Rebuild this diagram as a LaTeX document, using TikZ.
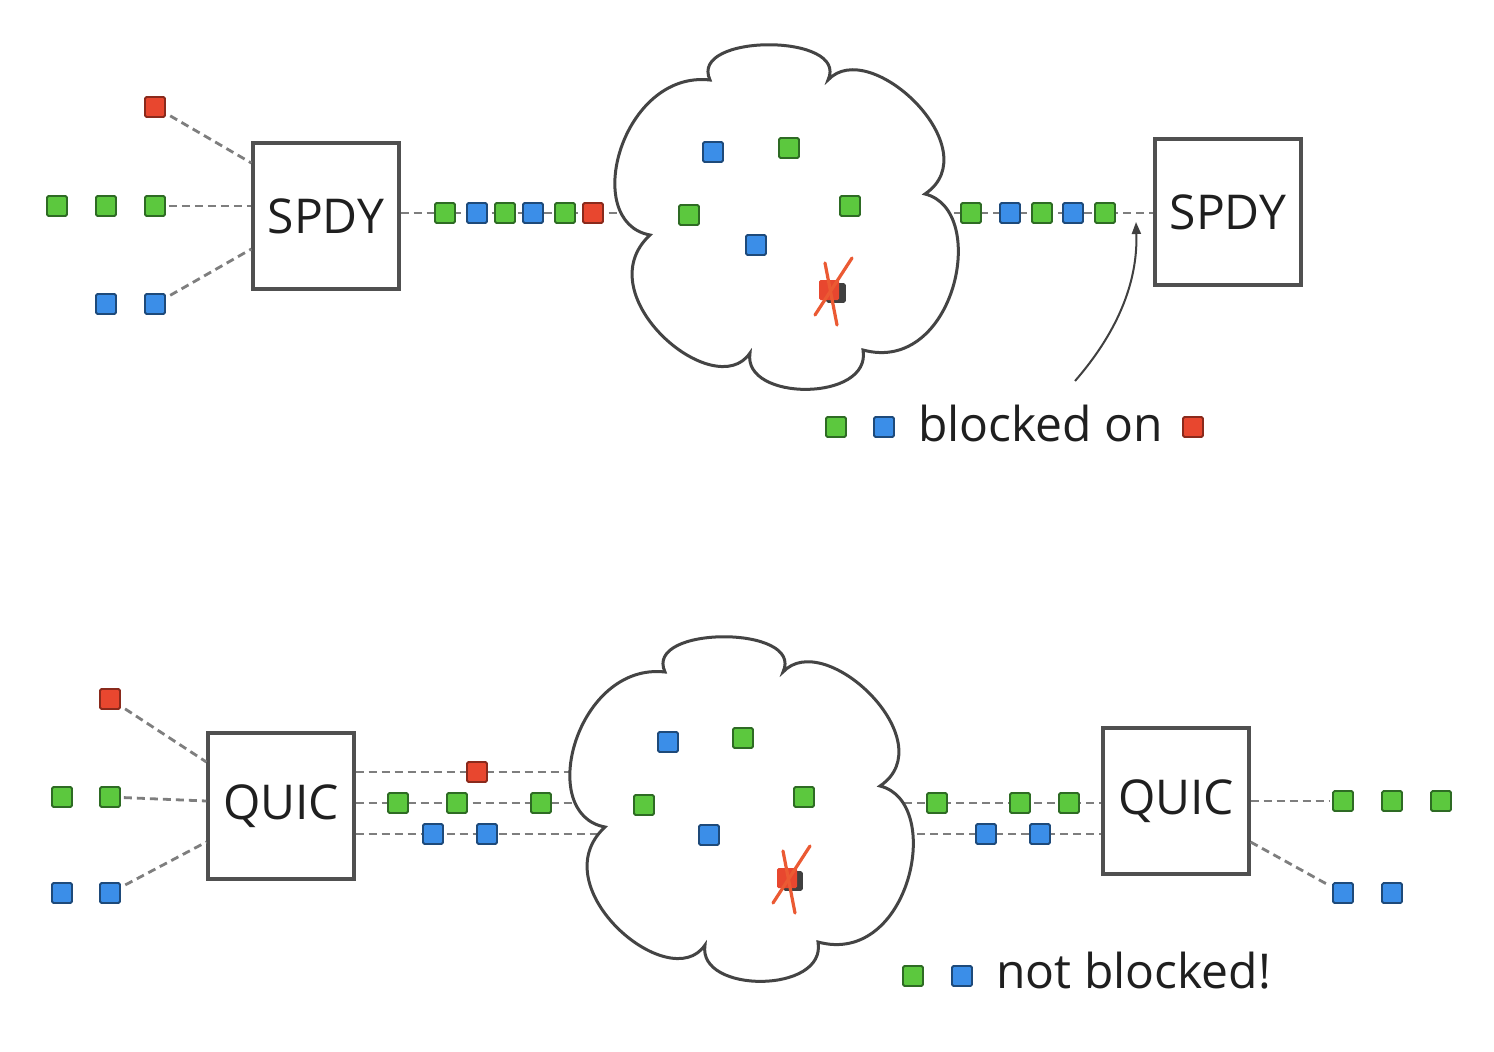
\documentclass[tikz,border=0pt]{standalone}
\usepackage{fontspec}
\setmainfont{Open Sans}
\usetikzlibrary{arrows.meta}
\definecolor{pgreen}{HTML}{5CC83E}
\definecolor{pgreendk}{HTML}{2E6B24}
\definecolor{pblue}{HTML}{3B8EE8}
\definecolor{pbluedk}{HTML}{1E4A7A}
\definecolor{pred}{HTML}{E8472F}
\definecolor{preddk}{HTML}{8A2A1C}
\definecolor{boxgray}{HTML}{505050}
\definecolor{linegray}{HTML}{7E7E7E}
\definecolor{cloudgray}{HTML}{444444}
\definecolor{xred}{HTML}{EB5A33}
\begin{document}
\begin{tikzpicture}[x=1pt,y=-1pt,
 pkt/.style={draw, line width=1.8pt, minimum size=20pt, inner sep=0pt, rounded corners=1.5pt},
 gpk/.style={pkt, fill=pgreen, draw=pgreendk},
 bpk/.style={pkt, fill=pblue, draw=pbluedk},
 rpk/.style={pkt, fill=pred, draw=preddk},
 proto/.style={draw=boxgray, line width=3.2pt, fill=white, minimum width=146pt, minimum height=146pt, inner sep=0pt, font=\fontsize{48}{56}\selectfont, text=black!88},
 link/.style={draw=linegray, line width=2.8pt, dash pattern=on 8pt off 5pt},
 cloudline/.style={draw=cloudgray, line width=3pt, fill=white},
 lbl/.style={font=\fontsize{48}{56}\selectfont, text=black!88, inner sep=0pt, anchor=base west},
 cross/.style={draw=xred, line width=3.2pt, line cap=round},
 pointer/.style={draw=black!75, line width=2pt, -{Triangle[length=12pt,width=9pt]}},
 cloudpic/.pic={
   \path[cloudline] (710,80) .. controls (688,33) and (850,33) .. (828,80)
     .. controls (870,35) and (990,150) .. (925,194)
     .. controls (990,210) and (955,375) .. (863,350)
     .. controls (872,402) and (742,402) .. (750,353)
     .. controls (715,405) and (585,295) .. (650,235)
     .. controls (580,222) and (622,70) .. (710,80) -- cycle;
 }
]
\fill[white] (0,0) rectangle (1494,1052);
\useasboundingbox (0,0) rectangle (1494,1052);

% ================= TOP (SPDY) =================
\node[proto] (s1) at (326,216) {SPDY};
\node[proto] (s2) at (1228,212) {SPDY};

\node[rpk] (ta1) at (155,107) {};
\node[gpk] (tg1) at (57,206) {};
\node[gpk] (tg2) at (106,206) {};
\node[gpk] (tg3) at (155,206) {};
\node[bpk] (tb1) at (106,304) {};
\node[bpk] (tb2) at (155,304) {};

\draw[link, shorten <=5pt] (ta1) -- ([yshift=53pt]s1.west);
\draw[link, shorten <=3pt] (tg3) -- ([yshift=10pt]s1.west);
\draw[link, shorten <=5pt] (tb2) -- ([yshift=-33pt]s1.west);

\coordinate (c1l) at (720,213);
\coordinate (c1r) at (850,213);
\draw[link, line width=2.2pt] (s1.east |- c1l) -- (c1l);
\draw[link, line width=2.2pt] (c1r) -- (s2.west |- c1r);

\pic at (0,0) {cloudpic};

% packets on the wire
\node[gpk] (tw1) at (445,213) {};
\node[bpk] (tw2) at (477,213) {};
\node[gpk] (tw3) at (505,213) {};
\node[bpk] (tw4) at (533,213) {};
\node[gpk] (tw5) at (565,213) {};
\node[rpk] (tw6) at (593,213) {};

\node[gpk] (to1) at (971,213) {};
\node[bpk] (to2) at (1010,213) {};
\node[gpk] (to3) at (1042,213) {};
\node[bpk] (to4) at (1073,213) {};
\node[gpk] (to5) at (1105,213) {};

% packets in the cloud
\node[bpk] (tc1) at (713,152) {};
\node[gpk] (tc2) at (789,148) {};
\node[gpk] (tc3) at (689,215) {};
\node[gpk] (tc4) at (850,206) {};
\node[bpk] (tc5) at (756,245) {};
\node[pkt, fill=black!75, draw=black!75, minimum size=18pt] (tcs) at (836,293) {};
\node[rpk, draw=none] (tc6) at (829,290) {};
\draw[cross] ([shift={(-14pt,-25pt)}]tc6.center) -- ([shift={(23pt,32pt)}]tc6.center);
\draw[cross] ([shift={(-4pt,27pt)}]tc6.center) -- ([shift={(8pt,-35pt)}]tc6.center);

% label
\node[gpk] (lg1) at (836,427) {};
\node[bpk] (lb1) at (884,427) {};
\node[lbl] (blk) at (918,441) {blocked on};
\node[rpk] (lr1) at (1193,427) {};
\coordinate (a0) at (1075,381);
\coordinate (a1) at (1136,222);
\draw[pointer] (a0) .. controls (1115,335) and (1138,285) .. (a1);

% ================= BOTTOM (QUIC) =================
\node[proto] (q1) at (281,806) {QUIC};
\node[proto] (q2) at (1176,801) {QUIC};

\node[rpk] (ba1) at (110,699) {};
\node[gpk] (bg1) at (62,797) {};
\node[gpk] (bg2) at (110,797) {};
\node[bpk] (bb1) at (62,893) {};
\node[bpk] (bb2) at (110,893) {};

\draw[link, shorten <=5pt] (ba1) -- ([yshift=44pt]q1.west);
\draw[link, shorten <=3pt] (bg2) -- ([yshift=5pt]q1.west);
\draw[link, shorten <=5pt] (bb2) -- ([yshift=-36pt]q1.west);

\coordinate (k1) at (700,772);
\coordinate (k2) at (700,803);
\coordinate (k3) at (700,834);
\coordinate (k4) at (800,803);
\coordinate (k5) at (800,834);
\draw[link] ([yshift=34pt]q1.east) -- (k1);
\draw[link] ([yshift=3pt]q1.east) -- (k2);
\draw[link] ([yshift=-28pt]q1.east) -- (k3);
\draw[link] (k4) -- ([yshift=-2pt]q2.west);
\draw[link] (k5) -- ([yshift=-33pt]q2.west);

\pic at (-45,592) {cloudpic};

\node[rpk] (bw1) at (477,772) {};
\node[gpk] (bw2) at (398,803) {};
\node[gpk] (bw3) at (457,803) {};
\node[gpk] (bw4) at (541,803) {};
\node[bpk] (bw5) at (433,834) {};
\node[bpk] (bw6) at (487,834) {};

\node[gpk] (bo1) at (937,803) {};
\node[gpk] (bo2) at (1020,803) {};
\node[gpk] (bo3) at (1069,803) {};
\node[bpk] (bo4) at (986,834) {};
\node[bpk] (bo5) at (1040,834) {};

\node[gpk] (og1) at (1343,801) {};
\node[gpk] (og2) at (1392,801) {};
\node[gpk] (og3) at (1441,801) {};
\node[bpk] (ob1) at (1343,893) {};
\node[bpk] (ob2) at (1392,893) {};
\draw[link, shorten >=3pt] (q2.east) -- (og1);
\draw[link, shorten >=5pt] ([yshift=-41pt]q2.east) -- (ob1);

\node[bpk] (bc1) at (668,742) {};
\node[gpk] (bc2) at (743,738) {};
\node[gpk] (bc3) at (644,805) {};
\node[gpk] (bc4) at (804,797) {};
\node[bpk] (bc5) at (709,835) {};
\node[pkt, fill=black!75, draw=black!75, minimum size=18pt] (bcs) at (793,881) {};
\node[rpk, draw=none] (bc6) at (787,878) {};
\draw[cross] ([shift={(-14pt,-25pt)}]bc6.center) -- ([shift={(23pt,32pt)}]bc6.center);
\draw[cross] ([shift={(-4pt,27pt)}]bc6.center) -- ([shift={(8pt,-35pt)}]bc6.center);

\node[gpk] (ng1) at (913,976) {};
\node[bpk] (nb1) at (962,976) {};
\node[lbl] (nbk) at (996,988) {not blocked!};
\end{tikzpicture}
\end{document}
